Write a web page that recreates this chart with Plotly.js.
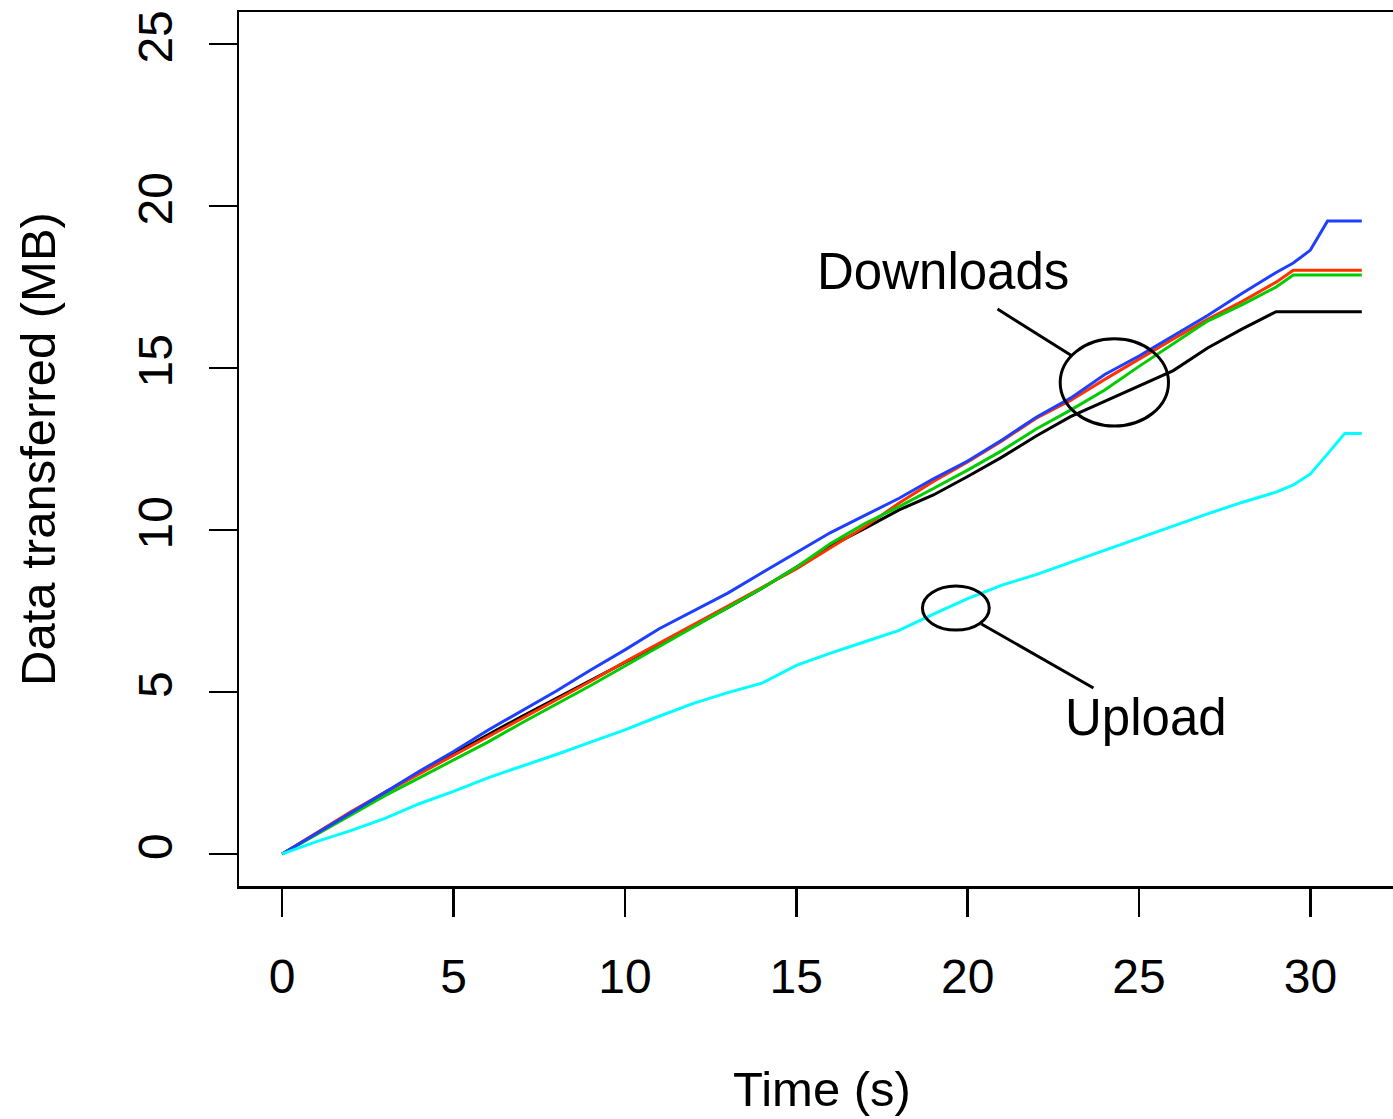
<!DOCTYPE html>
<html>
<head>
<meta charset="utf-8">
<script src="https://cdn.plot.ly/plotly-3.0.1.min.js"></script>
<style>
  html, body { margin: 0; padding: 0; background: #fff; overflow: hidden; }
  #chart { width: 1420px; height: 1119px; }
</style>
</head>
<body>
<div id="chart"></div>
<script>
// Elapsed time in seconds for every sample
const timeSec = [0, 1, 2, 3, 4, 5, 6, 7, 8, 9, 10, 11, 12, 13, 14, 15, 16, 17, 18, 19,
                 20, 21, 22, 23, 24, 25, 26, 27, 28, 29, 29.5, 30, 30.5, 31, 31.5];

// Cumulative data transferred (MB), four download streams and one upload stream
const downloadBlack = [0, 0.64, 1.28, 1.9, 2.5, 3.1, 3.68, 4.25, 4.8, 5.37, 5.92, 6.45, 7.02, 7.6, 8.2, 8.85, 9.5, 10.05, 10.62, 11.08,
                       11.65, 12.25, 12.9, 13.5, 13.97, 14.45, 14.92, 15.62, 16.2, 16.74, 16.74, 16.74, 16.74, 16.74, 16.74];
const downloadRed   = [0, 0.66, 1.3, 1.9, 2.47, 3.04, 3.62, 4.2, 4.75, 5.33, 5.93, 6.5, 7.08, 7.65, 8.22, 8.8, 9.45, 10.1, 10.83, 11.5,
                       12.1, 12.75, 13.45, 14.0, 14.65, 15.28, 15.9, 16.5, 17.05, 17.65, 18.02, 18.02, 18.02, 18.02, 18.02];
const downloadGreen = [0, 0.6, 1.2, 1.8, 2.35, 2.9, 3.45, 4.05, 4.62, 5.2, 5.8, 6.4, 7.0, 7.6, 8.2, 8.85, 9.58, 10.2, 10.72, 11.28,
                       11.85, 12.45, 13.12, 13.7, 14.32, 15.05, 15.75, 16.45, 16.95, 17.5, 17.87, 17.87, 17.87, 17.87, 17.87];
const downloadBlue  = [0, 0.63, 1.27, 1.9, 2.55, 3.16, 3.82, 4.42, 5.03, 5.68, 6.3, 6.95, 7.5, 8.05, 8.68, 9.3, 9.92, 10.45, 10.98, 11.58,
                       12.13, 12.78, 13.48, 14.07, 14.8, 15.37, 15.99, 16.62, 17.3, 17.95, 18.24, 18.64, 19.54, 19.54, 19.54];
const uploadCyan    = [0, 0.38, 0.72, 1.1, 1.55, 1.93, 2.35, 2.7, 3.07, 3.45, 3.83, 4.25, 4.65, 4.98, 5.27, 5.82, 6.2, 6.55, 6.9, 7.4,
                       7.88, 8.3, 8.62, 9.0, 9.38, 9.75, 10.12, 10.5, 10.85, 11.17, 11.39, 11.73, 12.35, 12.98, 12.98];

const xTicks = [0, 5, 10, 15, 20, 25, 30];
const yTicks = [0, 5, 10, 15, 20, 25];

const FONT = 'Liberation Sans, Arial, Helvetica, sans-serif';

function series(y, color) {
  return {
    x: timeSec, y: y, type: 'scatter', mode: 'lines',
    line: { color: color, width: 3 },
    hoverinfo: 'skip', showlegend: false
  };
}

const data = [
  series(downloadBlack, '#000000'),
  series(downloadRed, '#ff3300'),
  series(downloadGreen, '#00cc00'),
  series(downloadBlue, '#1f3fff'),
  series(uploadCyan, '#00ffff')
];

const layout = {
  width: 1420, height: 1119,
  margin: { l: 239, r: 15, t: 12, b: 233 },
  paper_bgcolor: '#ffffff', plot_bgcolor: '#ffffff',
  font: { family: FONT, size: 48, color: '#000000' },
  xaxis: {
    range: [-1.26, 32.76], tickvals: xTicks, ticktext: xTicks.map(String),
    ticks: 'outside', ticklen: 28, tickwidth: 2.5, tickcolor: '#000',
    showline: true, linewidth: 2.5, linecolor: '#000', mirror: true,
    showgrid: false, zeroline: false,
    tickfont: { family: FONT, size: 48 },
    ticklabelstandoff: 19,
    title: { text: 'Time (s)', font: { family: FONT, size: 49 }, standoff: 70 }
  },
  yaxis: {
    range: [-0.99, 25.99], tickvals: yTicks, ticktext: yTicks.map(String),
    ticks: 'outside', ticklen: 28, tickwidth: 2.5, tickcolor: '#000',
    showline: true, linewidth: 2.5, linecolor: '#000', mirror: true,
    showgrid: false, zeroline: false, tickangle: -90,
    tickfont: { family: FONT, size: 48 },
    ticklabelstandoff: 17,
    title: { text: 'Data transferred (MB)', font: { family: FONT, size: 49 }, standoff: 58 }
  },
  shapes: [
    // callout around the download curves
    { type: 'circle', xref: 'x', yref: 'y', x0: 22.70, x1: 25.86, y0: 13.21, y1: 15.90,
      line: { color: '#000', width: 3 } },
    { type: 'line', xref: 'x', yref: 'y', x0: 20.87, y0: 16.82, x1: 23.05, y1: 15.37,
      line: { color: '#000', width: 3 } },
    // callout around the upload curve
    { type: 'circle', xref: 'x', yref: 'y', x0: 18.68, x1: 20.63, y0: 6.91, y1: 8.27,
      line: { color: '#000', width: 3 } },
    { type: 'line', xref: 'x', yref: 'y', x0: 20.40, y0: 7.10, x1: 23.67, y1: 5.12,
      line: { color: '#000', width: 3 } }
  ],
  annotations: [
    { text: 'Downloads', x: 19.29, y: 17.97, xref: 'x', yref: 'y', showarrow: false,
      xanchor: 'center', yanchor: 'middle', font: { family: FONT, size: 51, color: '#000' } },
    { text: 'Upload', x: 25.2, y: 4.2, xref: 'x', yref: 'y', showarrow: false,
      xanchor: 'center', yanchor: 'middle', font: { family: FONT, size: 51, color: '#000' } }
  ]
};

Plotly.newPlot('chart', data, layout, { staticPlot: true, displayModeBar: false });
</script>
</body>
</html>
